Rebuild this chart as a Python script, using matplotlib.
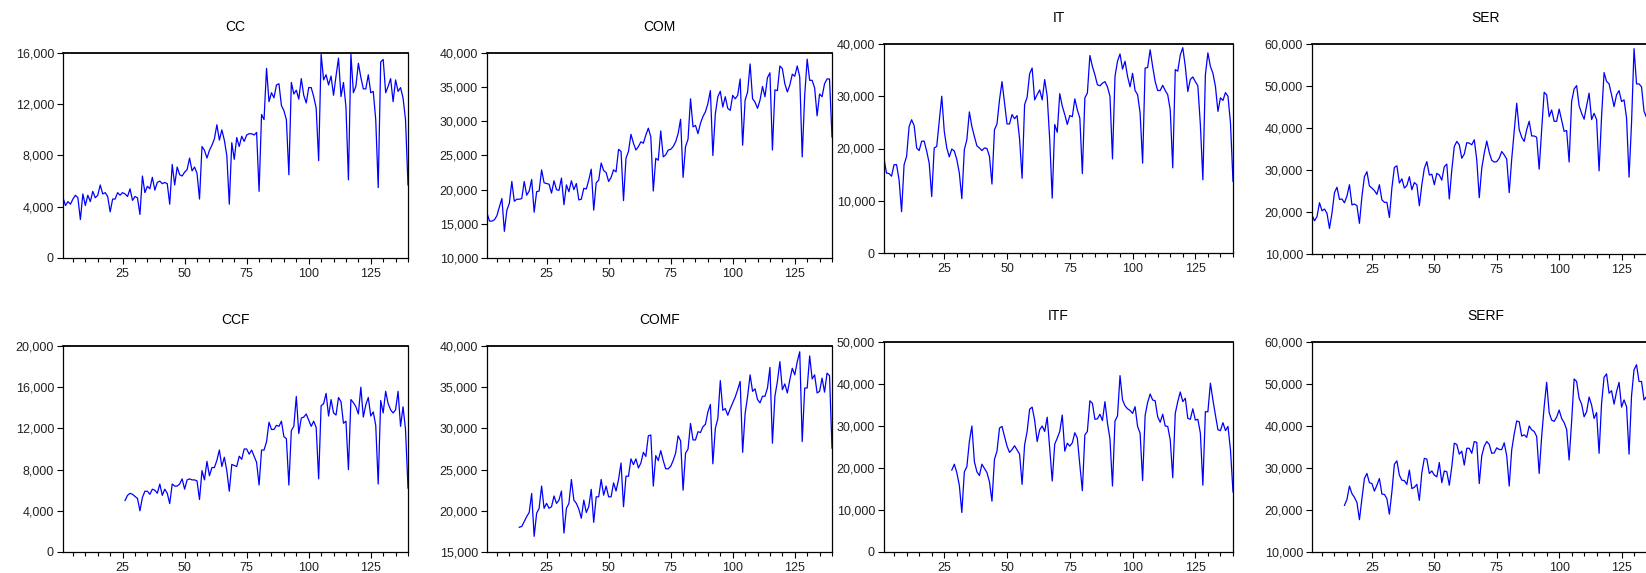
import numpy as np
import matplotlib
matplotlib.use("Agg")
import matplotlib.pyplot as plt
from matplotlib.ticker import FixedLocator, MultipleLocator, FuncFormatter

plt.rcParams['font.family'] = ['Liberation Sans', 'DejaVu Sans']

# monthly series, observation 1..140
cc = [4700, 4100, 4400, 4200, 4600, 4900, 4700, 3000, 5000, 4100,
      4900, 4400, 5200, 4700, 4900, 5700, 5000, 5100, 4800, 3600,
      4600, 4600, 5100, 4900, 5100, 5000, 4800, 5400, 4500, 4800,
      4700, 3400, 6400, 5100, 5600, 5400, 6300, 5300, 5900, 6000,
      5800, 5900, 5800, 4200, 7300, 5700, 7100, 6500, 6400, 6700,
      6900, 7800, 6800, 7100, 6600, 4600, 8700, 8400, 7800, 8400,
      8800, 9300, 10400, 9200, 10000, 9200, 8000, 4200, 9000, 7700,
      9400, 8700, 9500, 9100, 9600, 9700, 9700, 9600, 9800, 5200,
      11200, 10800, 14800, 12200, 12900, 12500, 13500, 13600, 11900, 11500,
      10800, 6500, 13700, 12800, 13100, 12400, 14000, 12700, 12100, 13300,
      13300, 12600, 11700, 7600, 15900, 13900, 14300, 13500, 14200, 12700,
      14200, 15600, 12600, 13700, 11800, 6100, 15900, 12900, 13400, 15200,
      14100, 13200, 13200, 14300, 12900, 13000, 10800, 5500, 15300, 15500,
      12900, 13400, 14000, 12200, 13900, 13000, 13300, 12500, 10800, 5700]

com = [16600, 15400, 15400, 15600, 16200, 17500, 18700, 13900, 17000, 18000,
       21200, 18300, 18600, 18600, 18700, 21200, 19200, 19800, 21500, 16700,
       19700, 19800, 22900, 21000, 20900, 20800, 19500, 21300, 20000, 19900,
       21700, 17800, 20700, 19700, 21300, 20000, 20900, 18500, 18600, 20200,
       20100, 21400, 23000, 17000, 21000, 21400, 23900, 22800, 22500, 21200,
       21800, 22900, 22600, 25900, 25600, 18400, 24600, 25600, 28100, 26800,
       25800, 26300, 27000, 26800, 28000, 29000, 27700, 19800, 24600, 24300,
       28600, 24800, 25100, 25800, 25900, 26300, 27000, 28200, 30300, 21800,
       26300, 27400, 33300, 29200, 29400, 28200, 29700, 30700, 31400, 32600,
       34500, 25000, 31100, 33600, 34400, 32100, 33600, 31900, 31600, 33800,
       33300, 33800, 36200, 26500, 33100, 34300, 38400, 33300, 32800, 31900,
       33100, 35100, 33600, 36400, 37100, 25800, 34600, 34500, 38100, 37700,
       35500, 34300, 35300, 36900, 36600, 38100, 36500, 24800, 33800, 39100,
       36000, 36000, 34900, 30800, 34000, 33600, 35500, 36200, 36200, 27700]

it = [18000, 15300, 15200, 14700, 16900, 16900, 14000, 7900, 16900, 18500,
      24200, 25500, 24400, 20100, 19600, 21400, 21400, 19500, 17200, 10800,
      20100, 20400, 25200, 30000, 23300, 20100, 18400, 19900, 19500, 17900,
      15300, 10400, 19800, 21700, 27000, 24200, 22300, 20500, 20100, 19600,
      20100, 20000, 18500, 13200, 23600, 24700, 29300, 32800, 28700, 24700,
      24700, 26500, 25700, 26300, 21800, 14300, 28400, 29800, 34300, 35400,
      29300, 30300, 31200, 29300, 33200, 30000, 21700, 10500, 24600, 23100,
      30500, 28100, 26500, 24600, 26300, 26100, 29500, 27400, 25800, 15200,
      29700, 30600, 37800, 35700, 34100, 32200, 32000, 32500, 32800, 31800,
      30000, 18000, 33800, 36700, 38100, 35200, 36700, 33800, 31800, 34400,
      31100, 30300, 26800, 17200, 35400, 35500, 38900, 35700, 32800, 31100,
      31100, 32100, 31100, 30300, 27400, 16300, 35100, 34800, 37900, 39300,
      35700, 30900, 33200, 33700, 32800, 32000, 24600, 14000, 34100, 38300,
      35700, 34400, 31900, 27100, 29700, 29200, 30700, 30000, 24900, 13700]

ser = [19300, 17900, 18900, 22200, 20300, 20700, 19700, 16100, 19700, 24600,
       25900, 23000, 23100, 22200, 23800, 26500, 21700, 21900, 21500, 17300,
       23700, 28400, 29600, 26200, 25700, 25100, 24200, 26500, 22900, 22300,
       22300, 18700, 25700, 30600, 31000, 26900, 27900, 25700, 26300, 28400,
       25300, 27000, 26500, 21500, 26500, 30400, 32000, 28800, 29000, 26500,
       29200, 28800, 27600, 30800, 31400, 23100, 30000, 35600, 36800, 36000,
       32800, 33800, 36500, 36400, 36000, 37200, 32400, 23400, 30400, 34000,
       36900, 34200, 32300, 31900, 32000, 32800, 34400, 33600, 32600, 24600,
       32600, 39300, 45900, 39600, 37800, 36800, 39600, 41600, 38100, 38100,
       37800, 30200, 39600, 48500, 47900, 42700, 44300, 41600, 41600, 44500,
       41800, 39200, 39400, 31900, 46300, 49300, 50100, 45300, 43500, 42100,
       45300, 48300, 42000, 43500, 42000, 29800, 42800, 53200, 51100, 50500,
       47900, 45100, 47900, 48900, 46300, 46700, 42400, 28300, 41200, 58900,
       50500, 50500, 49800, 44000, 42500, 44000, 46500, 45000, 40000, 28000]

# filtered series start later in the sample
ccf_start = 26
ccf = [5000, 5500, 5700, 5600, 5400,
       5200, 4000, 5300, 5900, 5900, 5600, 6100, 6000, 5700, 6600,
       5500, 6100, 5700, 4700, 6600, 6400, 6400, 6600, 7100, 6100,
       7000, 7100, 7000, 7000, 6900, 5100, 7900, 7000, 8800, 7400,
       8200, 8200, 8900, 9900, 8300, 9200, 7900, 5900, 8500, 8400,
       8300, 9300, 9000, 10000, 10000, 9500, 9900, 9300, 8700, 6500,
       9900, 9900, 10700, 12600, 11900, 11900, 12300, 12200, 12700, 11200,
       11000, 6500, 11800, 12200, 15100, 11500, 13000, 13100, 13400, 12800,
       12200, 12700, 12100, 7100, 14200, 14400, 15400, 13200, 14800, 13500,
       13300, 15000, 14600, 12500, 12700, 8000, 14800, 14500, 14100, 13400,
       16000, 13100, 14300, 15000, 13200, 13600, 12300, 6600, 14700, 13500,
       15600, 14400, 13800, 13500, 13800, 15600, 12200, 14100, 11900, 6200]

comf_start = 14
comf = [18000, 18100, 18700, 19300, 19800, 22100, 16900,
        19700, 20300, 23000, 20300, 20900, 20300, 20500, 21800, 20900, 21300,
        22400, 17300, 20300, 20900, 23800, 21300, 20900, 20200, 19100, 21300,
        19800, 20500, 22600, 18600, 21700, 21700, 23800, 21900, 23000, 21700,
        21700, 23400, 22400, 23800, 25800, 20500, 24200, 24200, 26300, 25600,
        26300, 25200, 25800, 27100, 26600, 29100, 29200, 23000, 26700, 26100,
        27300, 26100, 25100, 25100, 25400, 26100, 27000, 29100, 28500, 22500,
        27000, 27500, 30600, 28600, 28600, 29600, 29500, 30200, 30500, 32000,
        32900, 25700, 30000, 31200, 35800, 32200, 32400, 31600, 32400, 33100,
        33800, 34700, 35700, 27100, 31800, 33900, 36500, 34500, 34800, 33500,
        33100, 33900, 33900, 34900, 37400, 28200, 33900, 35700, 38100, 34700,
        35400, 34300, 35900, 37300, 36500, 38100, 39300, 28400, 34900, 34900,
        38800, 36000, 36500, 34300, 34500, 36100, 34400, 36700, 36400, 27600]

itf_start = 28
itf = [19500, 20900, 18900,
       15900, 9400, 19100, 20300, 26300, 30000, 21500, 19100, 18200, 20900,
       19900, 18900, 16700, 12100, 22100, 24000, 29500, 29900, 27500, 25200,
       23700, 24400, 25300, 24300, 23300, 16100, 25500, 28700, 34000, 34500,
       31400, 26300, 29100, 30000, 28700, 32100, 24700, 16900, 25700, 27100,
       28700, 32600, 24000, 25900, 25200, 26000, 28400, 27100, 20700, 14600,
       27900, 28700, 36000, 35400, 31600, 31700, 32800, 31300, 35800, 30700,
       26900, 15700, 31200, 32400, 42000, 36200, 34800, 34100, 33700, 33000,
       34600, 29900, 28300, 17000, 32500, 35600, 37600, 36200, 36000, 32200,
       30900, 32800, 30000, 29900, 26700, 17700, 33000, 35800, 38100, 35800,
       36600, 31800, 31600, 34100, 31400, 31600, 28300, 15900, 33400, 33400,
       40200, 36200, 32600, 29100, 28900, 30800, 28900, 29900, 24300, 14300]

serf_start = 14
serf = [21100, 22500, 25700, 23900, 23000, 21800, 17700,
        22700, 27500, 28700, 26500, 26300, 24500, 25900, 27500, 23800, 23700,
        22700, 19000, 24300, 30900, 31700, 28300, 27100, 27000, 26100, 29500,
        25100, 25400, 26100, 22300, 28900, 32300, 32100, 28700, 29300, 28300,
        27900, 31300, 26500, 29300, 29100, 25900, 30300, 35900, 35600, 33300,
        34000, 30700, 34700, 34700, 33500, 36300, 36100, 26300, 32900, 35200,
        36300, 35600, 33500, 33600, 34800, 34400, 34400, 36000, 32900, 25700,
        34300, 38100, 41200, 41000, 37600, 37900, 37300, 40000, 39100, 38700,
        37500, 28700, 37500, 44600, 50400, 43200, 41400, 41100, 42100, 43800,
        41800, 40800, 39200, 31900, 41100, 51200, 50600, 46600, 45200, 42200,
        43400, 46900, 45000, 41800, 43200, 33500, 45400, 51600, 52400, 47800,
        48400, 45200, 48200, 50400, 44500, 46200, 44600, 33300, 47200, 53400,
        54600, 50600, 50600, 46200, 47000, 46500, 48000, 47000, 44000, 34000]

W, H = 1646, 573
fig = plt.figure(figsize=(W / 100, H / 100), dpi=100)
fig.patch.set_facecolor('white')


def panel(box, title, start, values, yticks):
    # box = (left, top, right, bottom) in pixels
    l, t, r, b = box
    ax = fig.add_axes([l / W, 1 - b / H, (r - l) / W, (b - t) / H])
    x = np.arange(start, start + len(values))
    ax.plot(x, values, color='#0000FF', lw=0.9)
    ax.set_xlim(1, 140)
    ax.set_ylim(yticks[0], yticks[-1])
    ax.yaxis.set_major_locator(FixedLocator(yticks))
    ax.yaxis.set_major_formatter(FuncFormatter(lambda v, p: f'{v:,.0f}'))
    ax.xaxis.set_major_locator(FixedLocator([25, 50, 75, 100, 125]))
    ax.xaxis.set_minor_locator(MultipleLocator(5))
    ax.tick_params(axis='both', which='major', direction='out', length=4,
                   width=0.8, labelsize=9, colors='black',
                   labelcolor='#222222', pad=2.5)
    ax.tick_params(axis='x', which='minor', direction='out', length=3, width=0.8)
    ax.tick_params(axis='x', which='major', pad=3)
    for s in ax.spines.values():
        s.set_linewidth(0.9)
        s.set_color('black')
    ax.spines['top'].set_linewidth(1.3)
    ax.set_title(title, fontsize=10, pad=15.5, color='black')
    return ax


panel((63, 53, 408, 258), 'CC', 1, cc, [0, 4000, 8000, 12000, 16000])
panel((487, 53, 832, 258), 'COM', 1, com, [10000, 15000, 20000, 25000, 30000, 35000, 40000])
panel((884, 44, 1233, 253), 'IT', 1, it, [0, 10000, 20000, 30000, 40000])
panel((1312, 44, 1659, 254), 'SER', 1, ser, [10000, 20000, 30000, 40000, 50000, 60000])

panel((63, 346, 408, 552), 'CCF', ccf_start, ccf, [0, 4000, 8000, 12000, 16000, 20000])
panel((487, 346, 832, 552), 'COMF', comf_start, comf, [15000, 20000, 25000, 30000, 35000, 40000])
panel((884, 342, 1233, 552), 'ITF', itf_start, itf, [0, 10000, 20000, 30000, 40000, 50000])
panel((1312, 342, 1659, 552), 'SERF', serf_start, serf, [10000, 20000, 30000, 40000, 50000, 60000])

fig.savefig('out.png', dpi=100)
